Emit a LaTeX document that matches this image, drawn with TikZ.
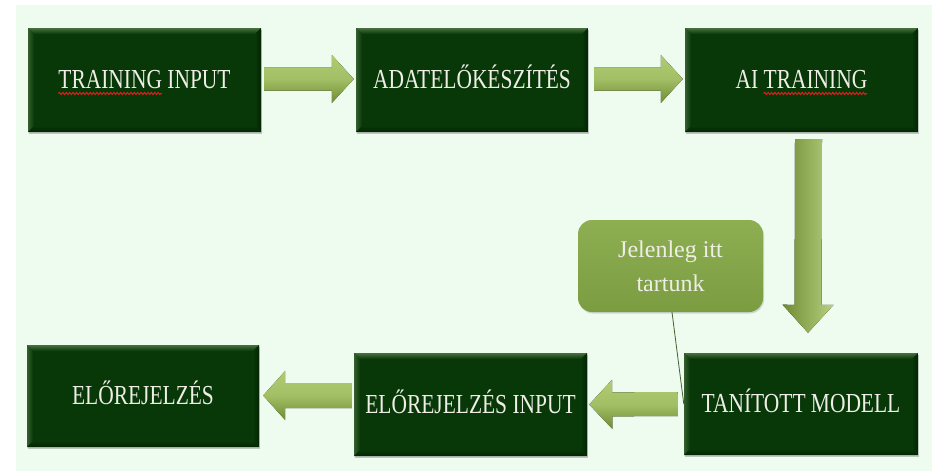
\documentclass[tikz,border=0pt]{standalone}
\usepackage{fontspec}
\setmainfont{Liberation Serif}[FakeStretch=0.78]
\newfontfamily\calloutfont{Liberation Serif}
\usetikzlibrary{calc,shadows,decorations.pathmorphing}
\definecolor{bgmint}{RGB}{238,252,240}
\definecolor{boxgreen}{RGB}{8,56,8}
\definecolor{bevlight}{RGB}{72,112,62}
\definecolor{bevdark}{RGB}{3,36,3}
\definecolor{arrowlight}{RGB}{176,204,114}
\definecolor{arrowdark}{RGB}{110,140,50}
\definecolor{calloutfill}{RGB}{124,156,66}
\definecolor{calloutlight}{RGB}{142,174,82}
\definecolor{textcol}{RGB}{238,238,230}
\definecolor{linecol}{RGB}{70,96,44}
\definecolor{spellred}{RGB}{220,30,30}
\newcommand\boxfont{\fontsize{27.5}{30}\selectfont}
\newlength\wTR
\newlength\wTI
\newlength\wAI
\newcommand\measure[2]{\setbox0=\hbox{#2}\global#1=\wd0\relax}
\newcommand\blockarrow[6]{%
  \coordinate (ba-h) at ($(#2)!#5!(#1)$);
  \fill[#6] ($(#1)!#3!90:(#2)$) -- ($(ba-h)!#3!-90:(#1)$) -- ($(ba-h)!#4!-90:(#1)$) -- (#2)
    -- ($(ba-h)!#4!90:(#1)$) -- ($(ba-h)!#3!90:(#1)$) -- ($(#1)!#3!-90:(#2)$) -- cycle;}
\tikzset{
  stepbox/.style={rectangle, fill=boxgreen, inner sep=0pt, text=textcol,
    font=\boxfont, text height=20pt, text depth=2.2pt,
    drop shadow={shadow xshift=1.2pt, shadow yshift=-1.5pt, opacity=0.35, fill=black!60},
    path picture={
      \coordinate (pnw) at (path picture bounding box.north west);
      \coordinate (pne) at (path picture bounding box.north east);
      \coordinate (psw) at (path picture bounding box.south west);
      \coordinate (pse) at (path picture bounding box.south east);
      \shade[top color=bevlight, bottom color=boxgreen] (pnw) -- (pne) -- ([xshift=-6pt,yshift=-6pt]pne) -- ([xshift=6pt,yshift=-6pt]pnw) -- cycle;
      \shade[left color=bevlight!70!boxgreen, right color=boxgreen] (pnw) -- ([xshift=6pt,yshift=-6pt]pnw) -- ([xshift=6pt,yshift=6pt]psw) -- (psw) -- cycle;
      \shade[bottom color=bevdark, top color=boxgreen] (psw) -- (pse) -- ([xshift=-6pt,yshift=6pt]pse) -- ([xshift=6pt,yshift=6pt]psw) -- cycle;
      \shade[right color=bevdark, left color=boxgreen] (pne) -- ([xshift=-6pt,yshift=-6pt]pne) -- ([xshift=-6pt,yshift=6pt]pse) -- (pse) -- cycle;
    }},
  harrow/.style={top color=arrowlight, bottom color=arrowdark, middle color=arrowlight!80!arrowdark},
  varrow/.style={left color=arrowdark, right color=arrowlight!90!white},
  callout/.style={rectangle, rounded corners=14pt, top color=calloutlight, bottom color=calloutfill,
    inner sep=0pt, text=textcol, align=center,
    font=\calloutfont\fontsize{24}{34}\selectfont,
    drop shadow={shadow xshift=1pt, shadow yshift=-1.5pt, opacity=0.3, fill=black!50}},
  leader/.style={draw=linecol, line width=0.8pt},
  squiggle/.style={spellred, line width=1pt, decorate, decoration={snake,amplitude=1.1pt,segment length=3.4pt}}
}
\begin{document}
\begin{tikzpicture}[x=1pt,y=-1pt]
\useasboundingbox (0,0) rectangle (932,471);
\fill[white] (0,0) rectangle (932,471);
\fill[bgmint] (16,5) rectangle (932,471);

\node[stepbox, minimum width=233pt, minimum height=104pt] (ti) at (144.5,80)
  {\measure\wTR{TRAINING}\measure\wTI{TRAINING INPUT}TRAINING INPUT};
\node[stepbox, minimum width=232pt, minimum height=104pt] (ad) at (472,80) {ADATELŐKÉSZÍTÉS};
\node[stepbox, minimum width=233pt, minimum height=104pt] (ai) at (801.5,80)
  {\measure\wAI{AI TRAINING}AI TRAINING};
\node[stepbox, minimum width=234pt, minimum height=102pt] (tm) at (801,404) {TANÍTOTT MODELL};
\node[stepbox, minimum width=233pt, minimum height=103pt] (ei) at (470.5,404.5) {ELŐREJELZÉS INPUT};
\node[stepbox, minimum width=232pt, minimum height=102pt] (el) at (143,396) {ELŐREJELZÉS};

% spell-check underlines
\draw[squiggle] ($(ti.center)+(-0.5\wTI,-13.5pt)$) -- ($(ti.center)+(-0.5\wTI+\wTR,-13.5pt)$);
\draw[squiggle] ($(ai.center)+(0.5\wAI-\wTR,-13.5pt)$) -- ($(ai.center)+(0.5\wAI,-13.5pt)$);

\node[callout, minimum width=185pt, minimum height=92pt] (co) at (670.5,266) {Jelenleg itt\\tartunk};

% arrows between steps
\coordinate (a1s) at ([xshift=3pt,yshift=1pt]ti.east);
\coordinate (a1e) at ([xshift=-2pt,yshift=1pt]ad.west);
\blockarrow{a1s}{a1e}{11.5pt}{24pt}{22pt}{harrow}
\coordinate (a2s) at ([xshift=6pt,yshift=1pt]ad.east);
\coordinate (a2e) at ([xshift=-2pt,yshift=1pt]ai.west);
\blockarrow{a2s}{a2e}{11.5pt}{24pt}{22pt}{harrow}
\coordinate (a3s) at ([xshift=7pt,yshift=-7pt]ai.south);
\coordinate (a3e) at ([xshift=7pt,yshift=20pt]tm.north);
\blockarrow{a3s}{a3e}{13.5pt}{25.5pt}{28pt}{varrow}
\coordinate (a4s) at ([xshift=-6pt]tm.west);
\coordinate (a4e) at ([xshift=2pt]ei.east);
\blockarrow{a4s}{a4e}{12pt}{24.5pt}{23pt}{harrow}
\coordinate (a5s) at ([xshift=-2pt,yshift=9pt]ei.west);
\coordinate (a5e) at ([xshift=4pt,yshift=0.5pt]el.east);
\blockarrow{a5s}{a5e}{12.5pt}{24.5pt}{22pt}{harrow}

\draw[leader] ([xshift=1.5pt]co.south) -- (tm.west);
\end{tikzpicture}
\end{document}
